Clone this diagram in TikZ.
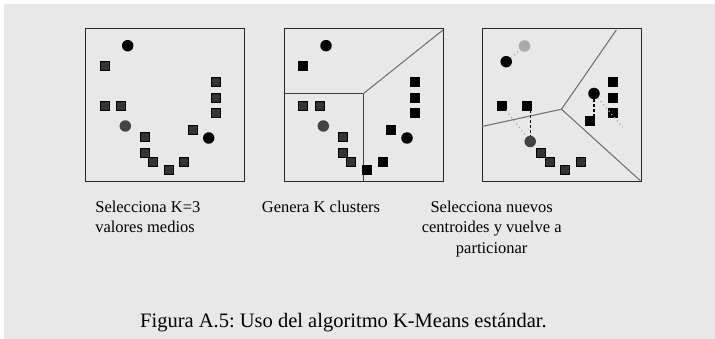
\documentclass[tikz,border=0pt]{standalone}
\usepackage{fontspec}
\setmainfont{Liberation Serif}
\usetikzlibrary{positioning}
\definecolor{bggray}{RGB}{232,232,232}
\definecolor{darkpt}{RGB}{52,52,52}
\definecolor{darkctr}{RGB}{68,68,68}
\definecolor{lightctr}{RGB}{170,170,170}
\tikzset{
  % Panel and point styles
  panel/.style={draw=black!85, line width=1pt},
  border/.style={draw=black!75, line width=0.9pt},
  sep/.style={draw=black!55, line width=1.1pt},
  pt/.style={rectangle, draw=black, fill=#1, minimum size=9pt, inner sep=0pt, line width=0.7pt},
  pt/.default={darkpt},
  ctr/.style={circle, fill=#1, minimum size=11.5pt, inner sep=0pt},
  ctr/.default={black},
  assign/.style={black, line width=1.4pt, dash pattern=on 3pt off 2pt},
  move/.style={lightctr, line width=1.2pt, dash pattern=on 1.2pt off 3pt},
  label/.style={font=\fontsize{16.5}{20.5}\selectfont},
}
\begin{document}
\frenchspacing
\begin{tikzpicture}[x=1pt, y=-1pt]
    % Background
    \fill[white] (0,0) rectangle (715,339);
    \fill[bggray] (4,4) rectangle (715,339);
    \useasboundingbox (0,0) rectangle (715,339);

    % Panels
    \draw[panel] (85,29) rectangle (244,182);
    \draw[panel] (284,29) rectangle (443,182);
    \draw[panel] (482,29) rectangle (641,182);

    % Panel 1: initial means
    \foreach \x/\y [count=\i] in {105.3/65.7, 105.3/105.7, 120.7/105.7, 145/137.3, 145/153.3,
        152.7/162, 169/169.7, 184.3/162, 192.7/130, 216/81.7, 216/97.7, 216/113.3}
      \node[pt] (a\i) at (\x,\y) {};
    \node[ctr] (a-m1) at (127.7,45.7) {};
    \node[ctr=darkctr] (a-m2) at (125.3,126) {};
    \node[ctr] (a-m3) at (208.7,138) {};

    % Panel 2: clusters
    \draw[border] (284,93.7) -- (363.3,93.7) -- (363.3,182);
    \draw[sep] (363.3,93.7) -- (443,30);
    \node[pt=black] (b1) at (303.3,65.7) {};
    \foreach \x/\y [count=\i from 2] in {303.3/105.7, 320/105.7, 343.3/137.3, 343.3/153.3, 351/162}
      \node[pt] (b\i) at (\x,\y) {};
    \foreach \x/\y [count=\i from 7] in {367.3/169.7, 383.3/162, 390.7/130, 414.7/81.7, 414.7/97.7, 414.7/113.3}
      \node[pt=black] (b\i) at (\x,\y) {};
    \node[ctr] (b-m1) at (326,45.7) {};
    \node[ctr=darkctr] (b-m2) at (323.3,126) {};
    \node[ctr] (b-m3) at (407,138) {};

    % Panel 3: new centroids
    \coordinate (c-o) at (561.5,109.2);
    \draw[sep] (482,126.5) -- (c-o);
    \draw[sep] (c-o) -- (616.3,30);
    \draw[sep] (c-o) -- (640.3,180.7);
    \foreach \x/\y [count=\i] in {502.3/105.5, 526.7/105.5, 590.3/121, 613/81.7, 613/97.7, 613/113.3}
      \node[pt=black] (c\i) at (\x,\y) {};
    \foreach \x/\y [count=\i from 7] in {541.3/153.3, 549.7/162, 565.3/169.7, 581.3/162}
      \node[pt] (c\i) at (\x,\y) {};
    \node[ctr=lightctr, draw=lightctr!80, densely dotted] (c-old) at (524.5,46) {};
    \node[ctr] (c-m1) at (506.2,61.7) {};
    \node[ctr=darkctr] (c-m2) at (530.2,141.5) {};
    \node[ctr] (c-m3) at (594,93.5) {};
    \coordinate (c-end) at (622.5,127);
    \draw[move] (c-m1) -- (c-old);
    \draw[move] (c1) -- (c-m2);
    \draw[move] (c-m3) -- (c-end);
    \draw[assign] (c-m2 |- c2.south) -- (c-m2);
    \draw[assign] (c-m3) -- (c-m3 |- c3.north);

    % Step labels
    \node[label, align=left, anchor=north west] (step1) at (91.8,197.2) {Selecciona K=3\\valores medios};
    \node[label, anchor=north] (step2) at (321,197.2) {Genera K clusters};
    \node[label, align=center, anchor=north] (step3) at (491.7,197.2) {Selecciona nuevos\\centroides y vuelve a\\particionar};

    % Caption
    \node[font=\fontsize{20.5}{24}\selectfont, anchor=base] (caption) at (343.5,327) {Figura A.5: Uso del algoritmo K-Means estándar.};
\end{tikzpicture}
\end{document}
